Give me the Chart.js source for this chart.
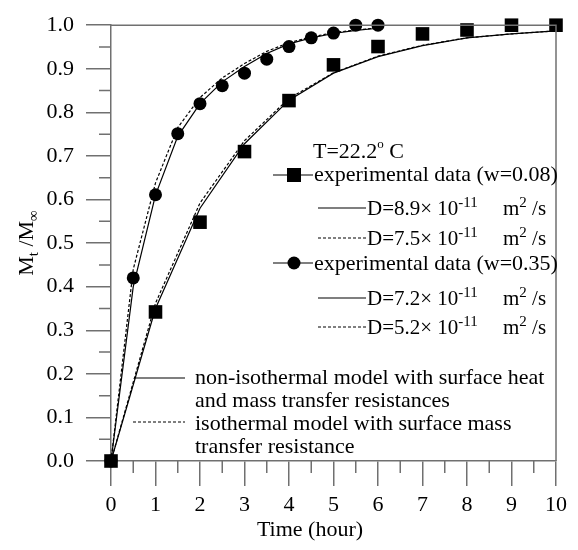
<!DOCTYPE html>
<html>
<head>
<meta charset="utf-8">
<script src="https://cdn.jsdelivr.net/npm/chart.js@4.4.0/dist/chart.umd.min.js"></script>
<style>
  body { margin: 0; background: #fff; }
  #wrap { width: 578px; height: 550px; }
</style>
</head>
<body>
<div id="wrap"><canvas id="uptakeChart"></canvas></div>
<script>
// experimental data, w = 0.08 (squares)
const hoursLow = [0, 1, 2, 3, 4, 5, 6, 7, 8, 9, 10];
const uptakeLow = [0, 0.342, 0.548, 0.71, 0.827, 0.909, 0.951, 0.98, 0.989, 1.0, 1.0];
// model curves, w = 0.08
const curveHoursLow = [0, 1, 2, 3, 4, 5, 6, 7, 8, 9, 10];
const nonIsoLow = [0, 0.35, 0.58, 0.728, 0.828, 0.89, 0.928, 0.953, 0.971, 0.98, 0.987];
const isoLow = [0, 0.362, 0.592, 0.735, 0.832, 0.891, 0.929, 0.954, 0.971, 0.98, 0.987];

// experimental data, w = 0.35 (circles)
const hoursHigh = [0, 0.5, 1, 1.5, 2, 2.5, 3, 3.5, 4, 4.5, 5, 5.5, 6];
const uptakeHigh = [0, 0.42, 0.611, 0.751, 0.82, 0.861, 0.89, 0.922, 0.951, 0.971, 0.982, 1.0, 1.0];
// model curves, w = 0.35
const curveHoursHigh = [0, 0.5, 1, 1.5, 2, 2.5, 3, 3.5, 4, 4.5, 5, 5.5, 6];
const nonIsoHigh = [0, 0.40, 0.61, 0.745, 0.82, 0.87, 0.905, 0.935, 0.957, 0.971, 0.981, 0.988, 0.993];
const isoHigh = [0, 0.44, 0.638, 0.765, 0.834, 0.879, 0.912, 0.94, 0.96, 0.973, 0.983, 0.989, 0.994];

const xTicks = [0, 1, 2, 3, 4, 5, 6, 7, 8, 9, 10];
const yTicks = [0, 0.1, 0.2, 0.3, 0.4, 0.5, 0.6, 0.7, 0.8, 0.9, 1.0];

const serif = '"Liberation Serif", "Times New Roman", serif';
const axisColor = '#707070';

function toPoints(xs, ys) {
    return xs.map((x, i) => ({ x: x, y: ys[i] }));
}

function curve(xs, ys, dashed) {
    return {
        type: 'line',
        data: toPoints(xs, ys),
        borderColor: '#000',
        borderWidth: 1.2,
        borderDash: dashed ? [3, 2] : [],
        pointRadius: 0,
        tension: 0,
        fill: false
    };
}

// draws a row of text pieces: [text, size, raise]
function richText(ctx, x, y, pieces) {
    pieces.forEach(p => {
        if (p.at !== undefined) x = p.at;
        ctx.font = p.size + 'px ' + serif;
        ctx.fillText(p.text, x, y - (p.raise || 0));
        x += ctx.measureText(p.text).width;
    });
}

function sample(ctx, x1, x2, y, dashed) {
    ctx.save();
    ctx.strokeStyle = '#000';
    ctx.lineWidth = 1.2;
    ctx.setLineDash(dashed ? [3, 2] : []);
    ctx.beginPath();
    ctx.moveTo(x1, y);
    ctx.lineTo(x2, y);
    ctx.stroke();
    ctx.restore();
}

const decorPlugin = {
    id: 'decor',
    afterDraw(chart) {
        const ctx = chart.ctx;
        const a = chart.chartArea;
        const xs = chart.scales.x;
        const ys = chart.scales.y;

        // frame and minor ticks
        ctx.save();
        ctx.strokeStyle = axisColor;
        ctx.lineWidth = 1.5;
        ctx.beginPath();
        ctx.moveTo(a.left, a.top);
        ctx.lineTo(a.right, a.top);
        ctx.lineTo(a.right, a.bottom);
        for (let i = 0; i < xTicks.length - 1; i++) {
            const px = xs.getPixelForValue((xTicks[i] + xTicks[i + 1]) / 2);
            ctx.moveTo(px, a.bottom);
            ctx.lineTo(px, a.bottom + 12);
        }
        for (let i = 0; i < yTicks.length - 1; i++) {
            const py = ys.getPixelForValue((yTicks[i] + yTicks[i + 1]) / 2);
            ctx.moveTo(a.left - 12, py);
            ctx.lineTo(a.left, py);
        }
        ctx.stroke();
        ctx.restore();

        ctx.save();
        ctx.fillStyle = '#000';
        ctx.textBaseline = 'alphabetic';

        // y axis title  Mt /M∞
        ctx.save();
        ctx.translate(33, 243);
        ctx.rotate(-Math.PI / 2);
        ctx.font = '22px ' + serif;
        const parts = [['M', 22, 0], ['t', 15, -5], [' /M', 22, 0], ['\u221E', 15, -5]];
        let total = 0;
        parts.forEach(p => { ctx.font = p[1] + 'px ' + serif; total += ctx.measureText(p[0]).width; });
        let tx = -total / 2;
        parts.forEach(p => {
            ctx.font = p[1] + 'px ' + serif;
            ctx.fillText(p[0], tx, -p[2]);
            tx += ctx.measureText(p[0]).width;
        });
        ctx.restore();

        // x axis title
        ctx.font = '22px ' + serif;
        ctx.textAlign = 'center';
        ctx.fillText('Time (hour)', 310, 536);
        ctx.textAlign = 'left';

        // legend
        richText(ctx, 313, 158, [
            { text: 'T=22.2', size: 22 }, { text: 'o', size: 13, raise: 10 }, { text: ' C', size: 22 }
        ]);

        sample(ctx, 273, 313, 175, false);
        ctx.fillRect(287, 168, 14, 14);
        richText(ctx, 314, 181, [{ text: 'experimental data (w=0.08)', size: 22 }]);

        sample(ctx, 318, 366, 208, false);
        richText(ctx, 367, 215, [
            { text: 'D=8.9\u00D7 10', size: 21 }, { text: '-11', size: 15, raise: 8 },
            { text: 'm', size: 21, at: 503 }, { text: '2', size: 15, raise: 8 }, { text: ' /s', size: 21 }
        ]);

        sample(ctx, 318, 366, 238, true);
        richText(ctx, 367, 245, [
            { text: 'D=7.5\u00D7 10', size: 21 }, { text: '-11', size: 15, raise: 8 },
            { text: 'm', size: 21, at: 503 }, { text: '2', size: 15, raise: 8 }, { text: ' /s', size: 21 }
        ]);

        sample(ctx, 273, 313, 263, false);
        ctx.beginPath();
        ctx.arc(294, 263, 6.5, 0, Math.PI * 2);
        ctx.fill();
        richText(ctx, 314, 270, [{ text: 'experimental data (w=0.35)', size: 22 }]);

        sample(ctx, 318, 366, 298, false);
        richText(ctx, 367, 305, [
            { text: 'D=7.2\u00D7 10', size: 21 }, { text: '-11', size: 15, raise: 8 },
            { text: 'm', size: 21, at: 503 }, { text: '2', size: 15, raise: 8 }, { text: ' /s', size: 21 }
        ]);

        sample(ctx, 318, 366, 327, true);
        richText(ctx, 367, 334, [
            { text: 'D=5.2\u00D7 10', size: 21 }, { text: '-11', size: 15, raise: 8 },
            { text: 'm', size: 21, at: 503 }, { text: '2', size: 15, raise: 8 }, { text: ' /s', size: 21 }
        ]);

        sample(ctx, 135, 185, 378, false);
        richText(ctx, 195, 384, [{ text: 'non-isothermal model with surface heat', size: 22 }]);
        richText(ctx, 195, 407, [{ text: 'and mass transfer resistances', size: 22 }]);
        sample(ctx, 133, 185, 422, true);
        richText(ctx, 195, 430, [{ text: 'isothermal model with surface mass', size: 22 }]);
        richText(ctx, 195, 453, [{ text: 'transfer resistance', size: 22 }]);

        ctx.restore();
    }
};

const ctx = document.getElementById('uptakeChart').getContext('2d');
new Chart(ctx, {
    type: 'scatter',
    data: {
        datasets: [
            {
                label: 'experimental data (w=0.08)',
                data: toPoints(hoursLow, uptakeLow),
                pointStyle: 'rect',
                pointRadius: 9.6,
                backgroundColor: '#000',
                borderWidth: 0
            },
            {
                label: 'experimental data (w=0.35)',
                data: toPoints(hoursHigh, uptakeHigh),
                pointStyle: 'circle',
                pointRadius: 6.5,
                backgroundColor: '#000',
                borderWidth: 0
            },
            Object.assign({ label: 'D=8.9e-11' }, curve(curveHoursLow, nonIsoLow, false)),
            Object.assign({ label: 'D=7.5e-11' }, curve(curveHoursLow, isoLow, true)),
            Object.assign({ label: 'D=7.2e-11' }, curve(curveHoursHigh, nonIsoHigh, false)),
            Object.assign({ label: 'D=5.2e-11' }, curve(curveHoursHigh, isoHigh, true))
        ]
    },
    options: {
        responsive: true,
        maintainAspectRatio: false,
        animation: false,
        clip: false,
        layout: { padding: { top: 16, right: 22, left: 0, bottom: 0 } },
        plugins: {
            legend: { display: false },
            tooltip: { enabled: false }
        },
        scales: {
            x: {
                type: 'linear',
                min: 0,
                max: 10,
                afterBuildTicks: s => { s.ticks = xTicks.map(v => ({ value: v })); },
                afterFit: s => { s.height = 89; },
                ticks: {
                    color: '#000',
                    padding: 6,
                    maxRotation: 0,
                    font: { family: serif, size: 22 }
                },
                grid: {
                    drawOnChartArea: false,
                    tickLength: 25,
                    color: axisColor,
                    lineWidth: 1.5
                },
                border: { color: axisColor, width: 1.5 }
            },
            y: {
                min: 0,
                max: 1,
                afterBuildTicks: s => { s.ticks = yTicks.map(v => ({ value: v })); },
                afterFit: s => { s.width = 111; },
                ticks: {
                    color: '#000',
                    padding: 12,
                    font: { family: serif, size: 22 },
                    callback: v => v.toFixed(1)
                },
                grid: {
                    drawOnChartArea: false,
                    tickLength: 25,
                    color: axisColor,
                    lineWidth: 1.5
                },
                border: { color: axisColor, width: 1.5 }
            }
        }
    },
    plugins: [decorPlugin]
});
</script>
</body>
</html>
